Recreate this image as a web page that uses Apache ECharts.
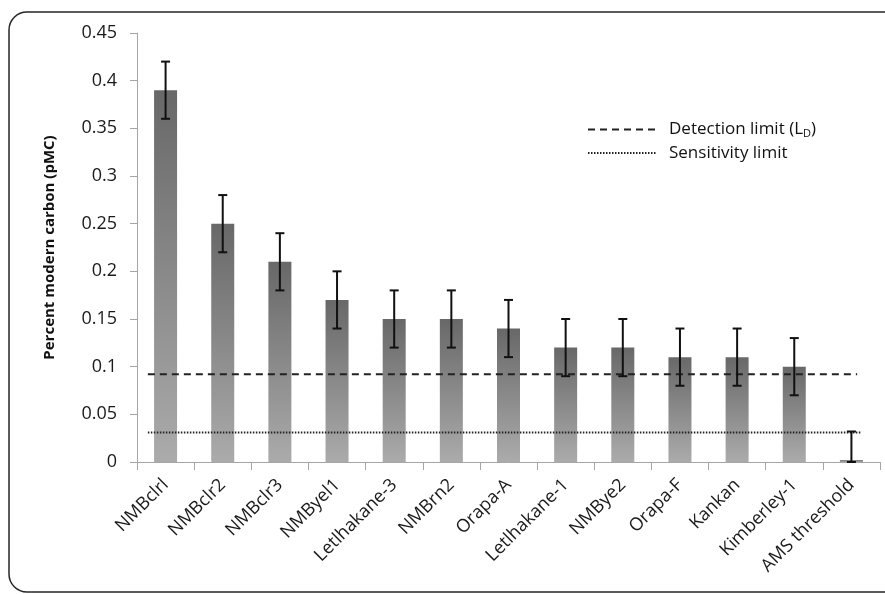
<!DOCTYPE html>
<html>
<head>
<meta charset="utf-8">
<script src="https://cdn.jsdelivr.net/npm/echarts@6/dist/echarts.min.js"></script>
<style>html,body{margin:0;padding:0;background:#fff}#c{width:885px;height:594px}</style>
</head>
<body>
<div id="c"></div>
<script>
const categories = ['NMBclrl','NMBclr2','NMBclr3','NMByel1','Letlhakane-3','NMBrn2','Orapa-A','Letlhakane-1','NMBye2','Orapa-F','Kankan','Kimberley-1','AMS threshold'];
const values = [0.39,0.25,0.21,0.17,0.15,0.15,0.14,0.12,0.12,0.11,0.11,0.10,0.002];
const errorUp = [0.03,0.03,0.03,0.03,0.03,0.03,0.03,0.03,0.03,0.03,0.03,0.03,0.030];
const errorDown = [0.03,0.03,0.03,0.03,0.03,0.03,0.03,0.03,0.03,0.03,0.03,0.03,0.002];
const detectionLimit = 0.092;
const sensitivityLimit = 0.031;
const detectionSpan = [0.19, 12.6];
const sensitivitySpan = [0.19, 12.67];

const FONT = 'Open Sans';
const chart = echarts.init(document.getElementById('c'), null, {renderer:'canvas'});
const errData = values.map((v,i)=>[i, v - errorDown[i], v + errorUp[i]]);

chart.setOption({
  animation:false,
  backgroundColor:'#fff',
  graphic:[{type:'rect',shape:{x:9,y:12,width:1000,height:580,r:18},style:{fill:'none',stroke:'#262626',lineWidth:1.5},z:-1}],
  grid:{left:137,right:5,top:33,bottom:132},
  legend:{
    orient:'vertical', left:582, top:116, itemWidth:68, itemHeight:12, itemGap:5,
    data:['Detection limit (LD)','Sensitivity limit'],
    itemStyle:{opacity:0},
    textStyle:{fontFamily:FONT,fontSize:17,color:'#111',padding:[0,0,0,8],
      rich:{a:{fontFamily:FONT,fontSize:17,color:'#111'},s:{fontFamily:FONT,fontSize:11,color:'#111',padding:[9,0,0,0]}}},
    formatter:function(n){ if(n==='Detection limit (LD)') return '{a|Detection limit (L}{s|D}{a|)}'; return n; }
  },
  xAxis:[{
    type:'category', data:categories,
    axisLine:{lineStyle:{color:'#a6a6a6',width:1}},
    axisTick:{show:true,length:8,lineStyle:{color:'#a6a6a6'},alignWithLabel:false},
    axisLabel:{rotate:45,interval:0,fontFamily:FONT,fontSize:18,color:'#1a1a1a',margin:20}
  },{
    type:'value', min:0, max:13, show:false
  }],
  yAxis:{
    type:'value', min:0, max:0.45, interval:0.05,
    name:'Percent modern carbon (pMC)', nameLocation:'middle', nameGap:80,
    nameTextStyle:{fontFamily:FONT,fontSize:15,fontWeight:'bold',color:'#111'},
    axisLine:{show:true,lineStyle:{color:'#a6a6a6'}},
    axisTick:{show:true,length:7,lineStyle:{color:'#a6a6a6'}},
    splitLine:{show:false},
    axisLabel:{fontFamily:FONT,fontSize:18,color:'#1a1a1a',margin:20,
      formatter:function(v){return String(+v.toFixed(2));}}
  },
  series:[{
    type:'bar', data:values, barWidth:23, xAxisIndex:0,
    itemStyle:{color:new echarts.graphic.LinearGradient(0,0,0,1,[{offset:0,color:'#686868'},{offset:1,color:'#ababab'}])},
    z:2
  },{
    type:'custom', xAxisIndex:0, data:errData, z:5,
    renderItem:function(params,api){
      const x = api.value(0);
      const lo = api.coord([x, api.value(1)]);
      const hi = api.coord([x, api.value(2)]);
      const cx = lo[0], w = 4.5;
      const st = {stroke:'#111',lineWidth:2};
      return {type:'group',children:[
        {type:'line',shape:{x1:cx,y1:lo[1],x2:cx,y2:hi[1]},style:st},
        {type:'line',shape:{x1:cx-w,y1:hi[1],x2:cx+w,y2:hi[1]},style:st},
        {type:'line',shape:{x1:cx-w,y1:lo[1],x2:cx+w,y2:lo[1]},style:st}
      ]};
    }
  },{
    name:'Detection limit (LD)', type:'line', xAxisIndex:1, symbol:'none', z:4,
    data:[[detectionSpan[0],detectionLimit],[detectionSpan[1],detectionLimit]],
    lineStyle:{color:'#222',width:2,type:[7,5]}, itemStyle:{color:'#222'}
  },{
    name:'Sensitivity limit', type:'line', xAxisIndex:1, symbol:'none', z:4,
    data:[[sensitivitySpan[0],sensitivityLimit],[sensitivitySpan[1],sensitivityLimit]],
    lineStyle:{color:'#222',width:2,type:[1.5,1.5]}, itemStyle:{color:'#222'}
  }]
});
</script>
</body>
</html>
